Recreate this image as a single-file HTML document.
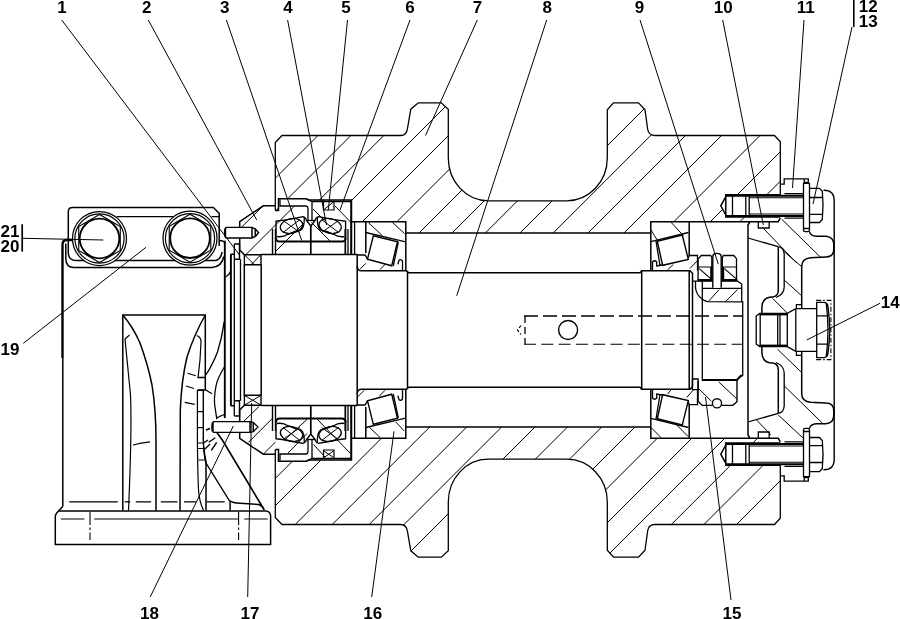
<!DOCTYPE html>
<html><head><meta charset="utf-8"><title>Roller assembly</title>
<style>
html,body{margin:0;padding:0;background:#fff;}
svg{display:block;will-change:transform;}
svg path,svg line,svg circle,svg ellipse{fill:none;stroke:#000;stroke-linecap:butt;stroke-linejoin:miter;}
svg text{font-family:"Liberation Sans",sans-serif;font-weight:bold;font-size:17px;fill:#000;}
</style></head><body>
<svg width="900" height="619" viewBox="0 0 900 619">
<rect width="900" height="619" fill="#fff"/>
<defs>
<clipPath id="ct"><path d="M275.3,210.5 L275.3,142.5 L282,135.5 L400.8,135.5 Q406.5,135.5 407.5,128.3 L410.8,109.2 L418.3,102.8 L441.3,102.8 L448.3,109.2 L448.3,158 A40,42.8 0 0 0 488,200.8 L566.7,200.8 A40.6,42.8 0 0 0 607.3,158 L607.3,109.7 L613.5,102.8 L638.5,102.8 L645,109.7 L647.7,129.5 Q648.7,135.5 655,135.5 L774.5,135.5 L780.3,141.7 L780.3,194.7 L725.8,194.7 L720.8,205.8 L725.8,217 L780.3,217 L780.3,221.7 L650.8,221.7 L650.8,233 L405.8,233 L405.8,221.7 L351.5,221.7 L351.5,200 L309,200 L306,198.8 L278.5,198.8 L278.5,210.5 Z"/></clipPath>
<clipPath id="cb"><path d="M275.3,210.5 L275.3,142.5 L282,135.5 L400.8,135.5 Q406.5,135.5 407.5,128.3 L410.8,109.2 L418.3,102.8 L441.3,102.8 L448.3,109.2 L448.3,158 A40,42.8 0 0 0 488,200.8 L566.7,200.8 A40.6,42.8 0 0 0 607.3,158 L607.3,109.7 L613.5,102.8 L638.5,102.8 L645,109.7 L647.7,129.5 Q648.7,135.5 655,135.5 L774.5,135.5 L780.3,141.7 L780.3,194.7 L725.8,194.7 L720.8,205.8 L725.8,217 L780.3,217 L780.3,221.7 L650.8,221.7 L650.8,233 L405.8,233 L405.8,221.7 L351.5,221.7 L351.5,200 L309,200 L306,198.8 L278.5,198.8 L278.5,210.5 Z" transform="matrix(1,0,0,-1,0,660)"/></clipPath>
</defs>
<g clip-path="url(#ct)"><path d="M363.5,90 L-116.5,570 M396.4,90 L-83.6,570 M429.3,90 L-50.7,570 M462,90 L-18,570 M494,90 L14,570 M528.6,90 L48.6,570 M562,90 L82,570 M595,90 L115,570 M568.3,150 L148.3,570 M663,90 L183,570 M696.2,90 L216.2,570 M731,90 L251,570 M767,90 L287,570 M805.5,90 L325.5,570 M842,90 L362,570 M871.5,90 L391.5,570" stroke-width="1.0"/></g>
<g clip-path="url(#cb)"><path d="M663.7,90 L183.7,570 M691,90 L211,570 M729.7,90 L249.7,570 M766.7,90 L286.7,570 M803.7,90 L323.7,570 M838.6,90 L358.6,570 M872,90 L392,570 M904.5,90 L454.5,540 M938.7,90 L458.7,570 M972,90 L492,570 M1005.5,90 L525.5,570 M1040,90 L560,570 M1073,90 L593,570 M1105.8,90 L625.8,570 M1138.4,90 L658.4,570 M1171,90 L691,570" stroke-width="1.0"/></g>
<g id="bracket">
<path d="M72.5,207.5 L213.3,207.5 L219.2,213.3 L219.2,246 M72.5,207.5 Q68.3,207.5 68.3,212 L68.3,253 Q68.6,260.5 76,260.5 L216,260.5 Q221,259 222,252" stroke-width="1.5" />
<path d="M65.8,243.5 L65.8,259 Q66,267.5 74,267.5 L212,267.5 Q222,266.5 223.8,256.5" stroke-width="1.5" />
<path d="M116.7,216.7 L173.3,216.7 M211.5,216.7 L219.2,216.7" stroke-width="1.3" />
<circle cx="99.5" cy="238.5" r="27" stroke-width="1.25" style="fill:#fff"/>
<circle cx="99.5" cy="238.5" r="24.6" stroke-width="1.2"/>
<circle cx="99.5" cy="238.5" r="19.8" stroke-width="1.8"/>
<path d="M99.5,214.5 L78.72,226.5 L78.72,250.5 L99.5,262.5 L120.28,250.5 L120.28,226.5 Z" stroke-width="1.1" />
<circle cx="190" cy="238.2" r="27" stroke-width="1.25" style="fill:#fff"/>
<circle cx="190" cy="238.2" r="24.6" stroke-width="1.2"/>
<circle cx="190" cy="238.2" r="19.8" stroke-width="1.8"/>
<path d="M190.0,214.2 L169.22,226.2 L169.22,250.2 L190.0,262.2 L210.78,250.2 L210.78,226.2 Z" stroke-width="1.1" />
<path d="M72.5,240 L67,240 Q62.5,240 62.5,244.5 L62.5,358" stroke-width="2.4" />
<path d="M62.8,358 L62.8,506.4" stroke-width="1.5" />
<path d="M225,240.5 L225,243.5 M219.2,240.5 Q224.5,240.5 225,243.5" stroke-width="1.3" />
<path d="M225.5,277 Q229,275.5 230.5,271.5" stroke-width="1.3" />
<path d="M122.8,510.5 L122.8,315 L205.3,315 L205.3,390" stroke-width="1.5" />
<path d="M122.8,315 Q133,327 140,343 Q148,365 152,385 Q156,410 156,440 L156,510.5" stroke-width="1.5" />
<path d="M125,339 Q127.5,365 130.5,395 Q132,430 128.5,510.5" stroke-width="1.2" />
<path d="M125,339 L129.5,335" stroke-width="1.2" />
<path d="M133,445 Q141,442.5 150,441.8" stroke-width="1.2" />
<path d="M205.3,315 Q194,335 187,357 Q181.5,380 180.3,410 L180,510.5" stroke-width="1.5" />
<path d="M196.7,335.5 Q201,337 201,342 Q200.5,360 198,378 M197.4,390 L197.4,440 Q197.6,470 198.5,490 Q199.5,503 203.7,510.5" stroke-width="1.2" />
<path d="M197.5,377.5 L205.3,377.5 M197.5,390 L205.3,390" stroke-width="1.3" />
<path d="M224.2,321.7 Q222,338 217.5,352 Q212,366 205.8,375" stroke-width="1.3" />
<path d="M224.7,366.5 Q217.5,378 216,386 Q213.8,398 214.7,405 L216.7,418.3 Q219,416 225.3,414.3" stroke-width="1.3" />
<path d="M203.3,390 L203.3,440 Q203.8,455 206,463 L229.3,500.6 Q233,503 240,503.3 L258.9,504.5 Q262,506 263.8,508.6" stroke-width="1.4" />
<path d="M203.8,447 Q204.5,456 206,462 L206,510.5 M230.1,501.4 L230.1,510.5" stroke-width="1.5" />
<path d="M197.5,390.3 L203.3,390.3 M197.5,411.7 L203.3,411.7 M197.5,427.7 L203.3,427.7 M198,443 L203.5,443 M198,448.5 L204,448.5 M198.5,460 L205.5,460" stroke-width="1.2" />
<path d="M216.7,432.3 L222.3,440 L264.3,510" stroke-width="1.6" />
<path d="M187.5,373.3 L195.8,375.8 M186,386 L194,388.5 M184.7,402.3 L194.7,404.3 M205.3,389.7 L212,393.7" stroke-width="1.2" />
<path d="M206,430 L210,428.5" stroke-width="1.8" />
<path d="M208.7,442.3 L215.3,437.7 M211.3,450.3 L216.7,442.3 M203.5,443 L208,440 M205,449 L210,444" stroke-width="1.4" />
<path d="M58.5,511.1 L266.5,511.1 M62.8,506.4 L56.7,513 Q55.3,514.5 55.3,517 L55.3,544.4 L270.6,544.4 L270.6,516 Q270.3,511.8 266.5,511.1" stroke-width="1.5" />
<path d="M69.2,501.8 L117.8,501.8 M124.7,501.8 L130.3,501.8 M135.8,501.8 L151.1,501.8 M160.8,501.8 L177.5,501.8 M184,501.8 L196,501.8 M206.7,501.8 L224.7,501.8" stroke-width="1.3" />
<path d="M60.8,519 L84.4,519 M94.2,519 L238.6,519 M244.2,519 L267.8,519" stroke-width="1.1" />
<path d="M90,512 L90,540 M238.6,512 L238.6,540" stroke-width="1.1" stroke-dasharray="13 2.5 2.5 2.5"/>
</g>
<g id="top">
<path d="M275.3,210.5 L275.3,142.5 L282,135.5 L400.8,135.5 Q406.5,135.5 407.5,128.3 L410.8,109.2 L418.3,102.8 L441.3,102.8 L448.3,109.2 L448.3,158 A40,42.8 0 0 0 488,200.8 L566.7,200.8 A40.6,42.8 0 0 0 607.3,158 L607.3,109.7 L613.5,102.8 L638.5,102.8 L645,109.7 L647.7,129.5 Q648.7,135.5 655,135.5 L774.5,135.5 L780.3,141.7 L780.3,194.7" stroke-width="1.3" />
<path d="M275.3,210.5 L278.5,210.5 L278.5,198.8 L306,198.8 L309,200 L351.5,200 L351.5,254.2" stroke-width="1.5" />
<path d="M351.5,221.7 L405.8,221.7 L405.8,233 L650.8,233 M650.8,270 L650.8,221.7 L778.3,221.7 L780.3,218" stroke-width="1.5" />
<path d="M280,199.5 L280,206 L306,206 Q308,206.3 308,208.5 L308,220.5" stroke-width="1.3" />
<path d="M307,199.2 L312,201.5 L351,201.5 M312,201.5 L312,220.5" stroke-width="1.3" />
<path d="M310.8,226 L310.8,254.2" stroke-width="1.7" />
<path d="M323.5,201.5 L323.5,210 L334,210 L334,201.5" stroke-width="1.2" />
<path d="M351,200 L351,254.2" stroke-width="1.5" />
<path d="M345.3,229 L345.3,254.2" stroke-width="1.7" />
<path d="M348,229 L348,254.2 M354.6,221.7 L354.6,254.2" stroke-width="1.3" />
<path d="M272.5,229 L272.5,254.2 M275.5,229 L275.5,254.2" stroke-width="1.4" />
<path d="M276.0,239 L276.0,221.3 Q288.0,219.8 303.0,216.6 Q306.0,217.5 306.5,220.5 L310.8,226" stroke-width="1.4" />
<path d="M277.0,236.5 Q283.0,237.5 288.0,234.3 Q294.0,231.5 301.0,230 Q304.5,228 304.3,217.3" stroke-width="1.3" />
<path d="M276.0,238 Q276.0,241.6 280.0,241.6 L310.8,241.6" stroke-width="2.0" />
<ellipse cx="291.5" cy="226" rx="11.3" ry="7.3" stroke-width="1.3" transform="rotate(-12 291.5 226)"/>
<path d="M283.0,220.5 L300.0,232.5 M300.0,219.5 L283.0,232.5" stroke-width="1.0" />
<path d="M345.6,239 L345.6,221.3 Q333.6,219.8 318.6,216.6 Q315.6,217.5 315.1,220.5 L310.8,226" stroke-width="1.4" />
<path d="M344.6,236.5 Q338.6,237.5 333.6,234.3 Q327.6,231.5 320.6,230 Q317.1,228 317.3,217.3" stroke-width="1.3" />
<path d="M345.6,238 Q345.6,241.6 341.6,241.6 L310.8,241.6" stroke-width="2.0" />
<ellipse cx="330.1" cy="226" rx="11.3" ry="7.3" stroke-width="1.3" transform="rotate(12 330.1 226)"/>
<path d="M338.6,220.5 L321.6,232.5 M321.6,219.5 L338.6,232.5" stroke-width="1.0" />
<path d="M306.5,220.5 L315.1,220.5" stroke-width="1.3" />
<path d="M275.3,205.8 L263.3,205.8 L239.7,221.7 L239.7,250 L244.4,254.7" stroke-width="1.5" />
<path d="M244.4,264.7 L244.4,254.7 L261,254.7 L261,264.7 Z" stroke-width="1.4" />
<path d="M261,254.5 L357.2,254.5" stroke-width="1.5" />
<path d="M365.8,221.7 L365.8,253 M405.8,233 L405.8,270" stroke-width="1.5" />
<path d="M365.8,232.5 L404.5,241.7 L405.8,241.7" stroke-width="1.3" />
<path d="M373.3,235.8 L397.5,241.7 L391.7,265.8 L367.5,259.2 Z" stroke-width="1.4" />
<path d="M357.2,255 L365,255 L367.5,259.2 M398.3,242 L393.3,266 M397.8,264.2 L399.2,260 Q401,259 402.5,261 L402.5,270.5" stroke-width="1.3" />
<path d="M689.2,221.7 L689.2,255.8" stroke-width="1.5" />
<path d="M650.8,241.7 L688.5,232.5" stroke-width="1.3" />
<path d="M657.3,241.2 L682.3,235 L688.3,259.4 L662.6,265.3 Z" stroke-width="1.4" />
<path d="M652.5,270 L652.5,262 Q654.5,259.5 656.7,262 L656.7,266 L662.5,265 M688.3,258.3 L689.2,255.5 L697.5,255.3 L697.5,270.5 M656,241 L660,265.5" stroke-width="1.3" />
<path d="M357.2,254.5 L357.2,266.7 Q357.6,270.8 361.5,270.8 L406.5,270.8 L408.5,272.8 L640,272.8 L641.7,270.8 L690,270.8 L692.5,273.3 L692.5,330" stroke-width="1.5" />
<path d="M357.2,266 L357.2,330 M407.5,271 L407.5,330 M641.7,270.8 L641.7,330 M689.2,271 L689.2,330" stroke-width="1.5" />
<path d="M261.2,264.5 L261.2,330 M244.3,264.5 L244.3,330" stroke-width="1.5" />
<path d="M240.5,259.3 L240.5,330 M234.3,244 L234.3,330" stroke-width="1.3" />
<path d="M230.9,254.3 L230.9,330 M224.8,242 L224.8,330" stroke-width="1.9" />
<path d="M230.7,254.3 L234.3,254.3 M234.3,244 L239.5,244 L239.5,259.3 M234.3,259.3 L240,259.3" stroke-width="1.4" />
<path d="M780.3,194.7 L725.8,194.7 L725.8,217 L780.3,217 M725.8,196.7 L720.8,205.8 L725.8,215" stroke-width="1.5" />
<path d="M726,195.8 L803.5,195.8 M726,216 L803.5,216" stroke-width="2.0" />
<path d="M749.2,197.8 L803.5,197.8 M749.2,214 L803.5,214" stroke-width="1.05" />
<path d="M732.5,195 L732.5,216.5 M745.8,195 L745.8,216.5 M749.2,195 L749.2,216.5" stroke-width="1.3" />
<path d="M803.5,183.3 L809.5,183.3 L809.5,230 Q809.5,231.7 807.8,231.7 L805.2,231.7 Q803.5,231.7 803.5,230 Z M803.5,228.5 L809.5,228.5" stroke-width="1.3" />
<path d="M809.5,188.3 L819.5,188.3 L822.3,191.3 Q823.8,205.5 822.3,219.5 L819.5,222.5 L809.5,222.5 M809.5,197.5 L822.8,197.5 M809.5,214.3 L822.8,214.3" stroke-width="1.3" />
<path d="M780.3,184.2 L784.2,184.2 L784.2,178.9 L808.3,178.9 L808.3,183.3 M804.2,178.9 L804.2,182.3 L808.3,182.3" stroke-width="1.3" />
<path d="M784.5,193.6 L803.5,193.6 M784.5,218.2 L803.5,218.2" stroke-width="1.2" />
<path d="M748,330 L748,225 L749.8,222" stroke-width="1.5" />
<path d="M758.3,222 L758.3,228 L769.2,228 L769.2,222" stroke-width="1.3" />
<path d="M748,238 L778.3,246.7" stroke-width="1.3" />
<path d="M778.3,246.7 L778.3,289.5 Q778.5,296.3 772.5,297 L769.5,297.3 Q762.3,298.8 761.9,307 L761.9,313.4" stroke-width="1.5" />
<path d="M778.3,246.7 Q783.6,247.3 784.2,254 L784.2,287 Q784,294.5 776,297.5" stroke-width="1.3" />
<path d="M809.5,231.7 Q810.5,236 816.5,236.3 L826,236.3 Q833.8,237 833.8,245 L833.8,249 Q833.8,256.9 826,256.9 L810.5,257.7 Q802,258.5 801.7,266 L801.7,308.3" stroke-width="1.5" />
<path d="M823.5,190.3 Q834.2,190 834.2,201 L834.2,330" stroke-width="1.4" />
<path d="M756.2,330 L756.2,316 L759.6,313.4 L787.3,313.4 L795.8,308.6 L816.7,308.6 L816.7,330 M795.8,308.6 L795.8,330 M787.3,313.4 L787.3,330 M780,313.4 L780,330 M777.7,313.4 L777.7,330 M760.2,313.6 L760.2,330" stroke-width="1.3" />
<path d="M759.6,314.6 L787.3,314.6" stroke-width="1.6" />
<path d="M816.7,308.6 L816.7,302.4 L824.5,302.4 Q827.5,303 828,306.5 Q829.6,318 829.8,330 M816.7,315.9 L828.3,315.9 M826.3,303.5 Q827.8,316 828,330" stroke-width="1.3" />
<path d="M796.4,308.6 L796.4,304.6 L801.5,304.6" stroke-width="1.2" />
<path d="M816.2,300.4 L830.9,300.4 L830.9,330" stroke-width="1.1" stroke-dasharray="5 2 1.5 2"/>
</g>
<g id="bottom" transform="matrix(1,0,0,-1,0,660)">
<path d="M275.3,210.5 L275.3,142.5 L282,135.5 L400.8,135.5 Q406.5,135.5 407.5,128.3 L410.8,109.2 L418.3,102.8 L441.3,102.8 L448.3,109.2 L448.3,158 A40,42.8 0 0 0 488,200.8 L566.7,200.8 A40.6,42.8 0 0 0 607.3,158 L607.3,109.7 L613.5,102.8 L638.5,102.8 L645,109.7 L647.7,129.5 Q648.7,135.5 655,135.5 L774.5,135.5 L780.3,141.7 L780.3,194.7" stroke-width="1.3" />
<path d="M275.3,210.5 L278.5,210.5 L278.5,198.8 L306,198.8 L309,200 L351.5,200 L351.5,254.2" stroke-width="1.5" />
<path d="M351.5,221.7 L405.8,221.7 L405.8,233 L650.8,233 M650.8,270 L650.8,221.7 L778.3,221.7 L780.3,218" stroke-width="1.5" />
<path d="M280,199.5 L280,206 L306,206 Q308,206.3 308,208.5 L308,220.5" stroke-width="1.3" />
<path d="M307,199.2 L312,201.5 L351,201.5 M312,201.5 L312,220.5" stroke-width="1.3" />
<path d="M310.8,226 L310.8,254.2" stroke-width="1.7" />
<path d="M323.5,201.5 L323.5,210 L334,210 L334,201.5" stroke-width="1.2" />
<path d="M351,200 L351,254.2" stroke-width="1.5" />
<path d="M345.3,229 L345.3,254.2" stroke-width="1.7" />
<path d="M348,229 L348,254.2 M354.6,221.7 L354.6,254.2" stroke-width="1.3" />
<path d="M272.5,229 L272.5,254.2 M275.5,229 L275.5,254.2" stroke-width="1.4" />
<path d="M276.0,239 L276.0,221.3 Q288.0,219.8 303.0,216.6 Q306.0,217.5 306.5,220.5 L310.8,226" stroke-width="1.4" />
<path d="M277.0,236.5 Q283.0,237.5 288.0,234.3 Q294.0,231.5 301.0,230 Q304.5,228 304.3,217.3" stroke-width="1.3" />
<path d="M276.0,238 Q276.0,241.6 280.0,241.6 L310.8,241.6" stroke-width="2.0" />
<ellipse cx="291.5" cy="226" rx="11.3" ry="7.3" stroke-width="1.3" transform="rotate(-12 291.5 226)"/>
<path d="M283.0,220.5 L300.0,232.5 M300.0,219.5 L283.0,232.5" stroke-width="1.0" />
<path d="M345.6,239 L345.6,221.3 Q333.6,219.8 318.6,216.6 Q315.6,217.5 315.1,220.5 L310.8,226" stroke-width="1.4" />
<path d="M344.6,236.5 Q338.6,237.5 333.6,234.3 Q327.6,231.5 320.6,230 Q317.1,228 317.3,217.3" stroke-width="1.3" />
<path d="M345.6,238 Q345.6,241.6 341.6,241.6 L310.8,241.6" stroke-width="2.0" />
<ellipse cx="330.1" cy="226" rx="11.3" ry="7.3" stroke-width="1.3" transform="rotate(12 330.1 226)"/>
<path d="M338.6,220.5 L321.6,232.5 M321.6,219.5 L338.6,232.5" stroke-width="1.0" />
<path d="M306.5,220.5 L315.1,220.5" stroke-width="1.3" />
<path d="M275.3,205.8 L263.3,205.8 L239.7,221.7 L239.7,250 L244.4,254.7" stroke-width="1.5" />
<path d="M244.4,264.7 L244.4,254.7 L261,254.7 L261,264.7 Z" stroke-width="1.4" />
<path d="M261,254.5 L357.2,254.5" stroke-width="1.5" />
<path d="M365.8,221.7 L365.8,253 M405.8,233 L405.8,270" stroke-width="1.5" />
<path d="M365.8,232.5 L404.5,241.7 L405.8,241.7" stroke-width="1.3" />
<path d="M373.3,235.8 L397.5,241.7 L391.7,265.8 L367.5,259.2 Z" stroke-width="1.4" />
<path d="M357.2,255 L365,255 L367.5,259.2 M398.3,242 L393.3,266 M397.8,264.2 L399.2,260 Q401,259 402.5,261 L402.5,270.5" stroke-width="1.3" />
<path d="M689.2,221.7 L689.2,255.8" stroke-width="1.5" />
<path d="M650.8,241.7 L688.5,232.5" stroke-width="1.3" />
<path d="M657.3,241.2 L682.3,235 L688.3,259.4 L662.6,265.3 Z" stroke-width="1.4" />
<path d="M652.5,270 L652.5,262 Q654.5,259.5 656.7,262 L656.7,266 L662.5,265 M688.3,258.3 L689.2,255.5 L697.5,255.3 L697.5,270.5 M656,241 L660,265.5" stroke-width="1.3" />
<path d="M357.2,254.5 L357.2,266.7 Q357.6,270.8 361.5,270.8 L406.5,270.8 L408.5,272.8 L640,272.8 L641.7,270.8 L690,270.8 L692.5,273.3 L692.5,330" stroke-width="1.5" />
<path d="M357.2,266 L357.2,330 M407.5,271 L407.5,330 M641.7,270.8 L641.7,330 M689.2,271 L689.2,330" stroke-width="1.5" />
<path d="M261.2,264.5 L261.2,330 M244.3,264.5 L244.3,330" stroke-width="1.5" />
<path d="M240.5,259.3 L240.5,330 M234.3,244 L234.3,330" stroke-width="1.3" />
<path d="M230.9,254.3 L230.9,330 M224.8,242 L224.8,330" stroke-width="1.9" />
<path d="M230.7,254.3 L234.3,254.3 M234.3,244 L239.5,244 L239.5,259.3 M234.3,259.3 L240,259.3" stroke-width="1.4" />
<path d="M780.3,194.7 L725.8,194.7 L725.8,217 L780.3,217 M725.8,196.7 L720.8,205.8 L725.8,215" stroke-width="1.5" />
<path d="M726,195.8 L803.5,195.8 M726,216 L803.5,216" stroke-width="2.0" />
<path d="M749.2,197.8 L803.5,197.8 M749.2,214 L803.5,214" stroke-width="1.05" />
<path d="M732.5,195 L732.5,216.5 M745.8,195 L745.8,216.5 M749.2,195 L749.2,216.5" stroke-width="1.3" />
<path d="M803.5,183.3 L809.5,183.3 L809.5,230 Q809.5,231.7 807.8,231.7 L805.2,231.7 Q803.5,231.7 803.5,230 Z M803.5,228.5 L809.5,228.5" stroke-width="1.3" />
<path d="M809.5,188.3 L819.5,188.3 L822.3,191.3 Q823.8,205.5 822.3,219.5 L819.5,222.5 L809.5,222.5 M809.5,197.5 L822.8,197.5 M809.5,214.3 L822.8,214.3" stroke-width="1.3" />
<path d="M780.3,184.2 L784.2,184.2 L784.2,178.9 L808.3,178.9 L808.3,183.3 M804.2,178.9 L804.2,182.3 L808.3,182.3" stroke-width="1.3" />
<path d="M784.5,193.6 L803.5,193.6 M784.5,218.2 L803.5,218.2" stroke-width="1.2" />
<path d="M748,330 L748,225 L749.8,222" stroke-width="1.5" />
<path d="M758.3,222 L758.3,228 L769.2,228 L769.2,222" stroke-width="1.3" />
<path d="M748,238 L778.3,246.7" stroke-width="1.3" />
<path d="M778.3,246.7 L778.3,289.5 Q778.5,296.3 772.5,297 L769.5,297.3 Q762.3,298.8 761.9,307 L761.9,313.4" stroke-width="1.5" />
<path d="M778.3,246.7 Q783.6,247.3 784.2,254 L784.2,287 Q784,294.5 776,297.5" stroke-width="1.3" />
<path d="M809.5,231.7 Q810.5,236 816.5,236.3 L826,236.3 Q833.8,237 833.8,245 L833.8,249 Q833.8,256.9 826,256.9 L810.5,257.7 Q802,258.5 801.7,266 L801.7,308.3" stroke-width="1.5" />
<path d="M823.5,190.3 Q834.2,190 834.2,201 L834.2,330" stroke-width="1.4" />
<path d="M756.2,330 L756.2,316 L759.6,313.4 L787.3,313.4 L795.8,308.6 L816.7,308.6 L816.7,330 M795.8,308.6 L795.8,330 M787.3,313.4 L787.3,330 M780,313.4 L780,330 M777.7,313.4 L777.7,330 M760.2,313.6 L760.2,330" stroke-width="1.3" />
<path d="M759.6,314.6 L787.3,314.6" stroke-width="1.6" />
<path d="M816.7,308.6 L816.7,302.4 L824.5,302.4 Q827.5,303 828,306.5 Q829.6,318 829.8,330 M816.7,315.9 L828.3,315.9 M826.3,303.5 Q827.8,316 828,330" stroke-width="1.3" />
<path d="M796.4,308.6 L796.4,304.6 L801.5,304.6" stroke-width="1.2" />
<path d="M816.2,300.4 L830.9,300.4 L830.9,330" stroke-width="1.1" stroke-dasharray="5 2 1.5 2"/>
</g>
<g id="ns">
<path d="M698.1,280 L698.1,259.2 L701.2,255.5 L710.7,255.5 L711.8,257.6 L711.8,280 M722.3,280 L722.3,257.6 L723.4,255.5 L733.8,255.5 L736.5,258.7 L736.5,280" stroke-width="1.3" />
<path d="M698.1,267 L711.8,267 M722.3,267 L736.5,267" stroke-width="1.2" />
<path d="M699.2,268.6 L710.7,278.6 M724.4,268.6 L736,278.6" stroke-width="1.15" />
<path d="M711.2,267 L711.2,280 M723.2,267 L723.2,280" stroke-width="2.0" />
<path d="M697.5,280.2 L737.5,280.2" stroke-width="2.2" />
<path d="M692.9,281.2 L737.5,281.2 L741.7,284 L741.7,301.7 M702.3,288.3 L741.7,288.3 M695.5,281.8 L695.5,288 Q696.5,295 702,299 Q704.5,301 707.6,301.7 L743.3,301.9" stroke-width="1.3" />
<path d="M702.3,281.2 L702.3,379 M742.7,301.7 L742.7,376" stroke-width="1.3" />
<path d="M712.8,287.7 L712.8,256.5 Q713,253.4 717,253.4 Q721,253.4 721.2,256.5 L721.2,287.7" stroke-width="1.4" style="fill:#fff"/>
<path d="M708.6,301.2 L719.1,289.6 M725.4,301.7 L737.5,289.6" stroke-width="1.0" />
<path d="M701.7,380 L737,380 L740.8,375.8 L742.7,375.8" stroke-width="2.0" />
<path d="M698.1,380.8 L698.1,401.2 L702.3,405.4 L712.5,405.4 M721.5,405.4 L732.8,405.4 L737,401.8 L737,380.8" stroke-width="1.4" />
<circle cx="717" cy="403.3" r="4.6" stroke-width="1.4"/>
<path d="M718.6,381.8 L737,399.1 M698.7,388.6 L711.3,401.2" stroke-width="1.0" />
<path d="M692.4,379 L698.1,379 L698.1,389.7 L692.4,389.7 Z" stroke-width="1.3" />
<path d="M524,316 L742,316" stroke-width="1.5" stroke-dasharray="14 5"/>
<path d="M524,344.2 L742,344.2" stroke-width="1.05" stroke-dasharray="12 5.3"/>
<path d="M525,316 L525,344.2" stroke-width="1.3" stroke-dasharray="7 4"/>
<path d="M521,325.5 L517.5,330 L521,334.5" stroke-width="1.2" stroke-dasharray="3 2"/>
<circle cx="568.1" cy="330" r="9.5" stroke-width="1.4"/>
<path d="M239.7,229 L263,206 M245.5,255 L293.5,207 M276,251 L304,223 M313,209 L324.5,220.5 M335,206 L351,222.5 M311.5,222.5 L330,241 M324,209.5 L333.5,202 M240,425 L259,406.5 M248.3,442.5 L272.5,418.3 M263.3,454.2 L275.5,442 M285,439.5 L307.5,419 M288,453 L307,433.5 M317,419 L351,454 M313.5,444.5 L325,457 M324,457.5 L333.5,451 M324,451 L333.5,457.5 M368.3,222.5 L382.5,235.8 M392.5,222.5 L404.5,233.5 M360,269.2 L365.8,263.3 M380,269.5 L385,264.5 M651,230 L657.5,240.5 M670.8,222 L683.3,235.5 M667.5,270 L673.3,264.5 M690,268.5 L697.5,260.5 M369.2,427 L380,437.5 M395.8,422 L404.2,431 M357.5,397 L364.2,390.3 M379.2,396.2 L385,390.3 M650.5,427 L660.8,437.3 M675,423.3 L688.3,436.7 M667.5,394.2 L670.8,390 M686.7,397.5 L693.3,390 M763.3,228.3 L796.7,263 M781.7,219.2 L820.8,257.5 M784.2,251.7 L801.7,266.7 M784.2,280 L801.7,295.8 M772.6,298.4 L787.3,313.1 M777.5,349.2 L801.7,372.5 M784.2,385.8 L822.5,423.3 M778.3,415 L803.3,438.3 M756.7,420 L770.8,435" stroke-width="1.0" />
<path d="M244.6,254.9 L254.4,264.7 M260.8,254.9 L251,264.7" stroke-width="1.0" />
<path d="M244.6,395.5 L260.8,405 M260.8,395.5 L244.6,405" stroke-width="1.0" />
<path d="M213.3,421.7 L250,421.7 L253.3,422.4 L258,427 L253.3,431.6 L250,432.3 L213.3,432.3 Q210.8,427 213.3,421.7 Z" stroke-width="1.3" style="fill:#fff"/>
<path d="M250,421.7 L250,432.3 M253.3,422.4 L253.3,431.6" stroke-width="1.5" />
<path d="M212.6,422.5 L212.6,431.5" stroke-width="2.2" />
</g>
<g id="leaders">
<line x1="61.7" y1="20" x2="239.5" y2="255" stroke-width="1.0" />
<line x1="148.3" y1="20" x2="256.7" y2="220" stroke-width="1.0" />
<line x1="226.4" y1="20" x2="301.7" y2="240.5" stroke-width="1.0" />
<line x1="287.6" y1="20" x2="326.5" y2="225" stroke-width="1.0" />
<line x1="347.5" y1="20" x2="328.3" y2="210" stroke-width="1.0" />
<line x1="410" y1="20" x2="340" y2="210" stroke-width="1.0" />
<line x1="477.3" y1="20" x2="425.5" y2="135.5" stroke-width="1.0" />
<line x1="546.7" y1="20" x2="456.7" y2="295.8" stroke-width="1.0" />
<line x1="640" y1="20" x2="718.3" y2="264.2" stroke-width="1.0" />
<line x1="722.7" y1="20" x2="763.3" y2="225" stroke-width="1.0" />
<line x1="804" y1="20" x2="792.5" y2="188" stroke-width="1.0" />
<line x1="852" y1="27" x2="813" y2="204" stroke-width="1.0" />
<line x1="880" y1="303.3" x2="806.7" y2="340" stroke-width="1.0" />
<line x1="731" y1="600" x2="705.5" y2="397" stroke-width="1.0" />
<line x1="371.7" y1="597" x2="394" y2="431.3" stroke-width="1.0" />
<line x1="247.7" y1="597" x2="251.7" y2="403" stroke-width="1.0" />
<line x1="150.2" y1="597" x2="233.3" y2="426" stroke-width="1.0" />
<line x1="23.3" y1="343.3" x2="146" y2="247.3" stroke-width="1.0" />
<line x1="22.7" y1="238.3" x2="103.3" y2="240" stroke-width="1.0" />
<line x1="853.8" y1="0" x2="853.8" y2="27" stroke-width="1.6" />
<line x1="22.2" y1="224.3" x2="22.2" y2="251.6" stroke-width="1.7" />
</g>
<g id="toppin">
<path d="M226,227.4 L252,227.4 L255.5,229 L258.6,232.7 L255.5,236.4 L252,238 L226,238 Q223,232.7 226,227.4 Z" stroke-width="1.4" style="fill:#fff"/>
<path d="M252,227.4 L252,238 M255.3,229 L255.3,236.4" stroke-width="1.5" />
<path d="M225.2,228.5 L225.2,237" stroke-width="2.0" />
</g>
<g id="labels">
<text x="62" y="12.5" text-anchor="middle">1</text>
<text x="146.7" y="12.5" text-anchor="middle">2</text>
<text x="224.7" y="12.5" text-anchor="middle">3</text>
<text x="288" y="12.5" text-anchor="middle">4</text>
<text x="346" y="12.5" text-anchor="middle">5</text>
<text x="410" y="12.5" text-anchor="middle">6</text>
<text x="477.5" y="12.5" text-anchor="middle">7</text>
<text x="547.2" y="12.5" text-anchor="middle">8</text>
<text x="639.5" y="12.5" text-anchor="middle">9</text>
<text x="723.3" y="12.5" text-anchor="middle">10</text>
<text x="805.8" y="12.5" text-anchor="middle">11</text>
<text x="868.2" y="11.8" text-anchor="middle">12</text>
<text x="868.2" y="26.9" text-anchor="middle">13</text>
<text x="890.2" y="307.6" text-anchor="middle">14</text>
<text x="732" y="618.5" text-anchor="middle">15</text>
<text x="372.8" y="618.5" text-anchor="middle">16</text>
<text x="250" y="618.5" text-anchor="middle">17</text>
<text x="149.5" y="618.5" text-anchor="middle">18</text>
<text x="10" y="355.3" text-anchor="middle">19</text>
<text x="10" y="237.2" text-anchor="middle">21</text>
<text x="10" y="252" text-anchor="middle">20</text>
</g>
</svg>
</body></html>
